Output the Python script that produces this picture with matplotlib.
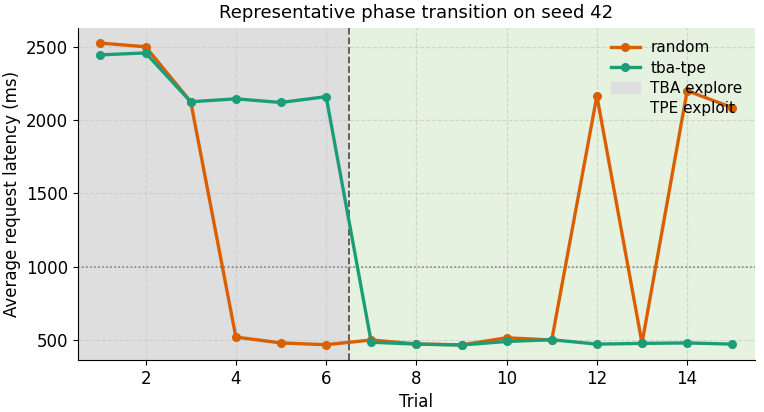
import numpy as np
import matplotlib
matplotlib.use("Agg")
import matplotlib.pyplot as plt

# datos
trials = [1, 2, 3, 4, 5, 6, 7, 8, 9, 10, 11, 12, 13, 14, 15]
random_lat = [2525, 2500, 2125, 520, 480, 468, 500, 473, 467, 515, 500, 2165, 478, 2200, 2085]
tba_tpe_lat = [2445, 2458, 2125, 2145, 2120, 2160, 485, 472, 466, 490, 502, 472, 477, 480, 472]
switch_at = 6.5
ref_line = 1000

fig, ax = plt.subplots(figsize=(7.64, 4.12), dpi=100)

ax.axvspan(0.5, switch_at, color="#dedede", zorder=0, label="TBA explore")
ax.axvspan(switch_at, 15.5, color="#e6f2e0", zorder=0, label="TPE exploit")

ax.plot(trials, random_lat, color="#d95f02", lw=2.4, marker="o", ms=5.5, label="random", zorder=3)
ax.plot(trials, tba_tpe_lat, color="#1b9e77", lw=2.4, marker="o", ms=5.5, label="tba-tpe", zorder=3)

ax.axvline(switch_at, color="#555555", ls="--", lw=1.3, zorder=2)
ax.axhline(ref_line, color="#777777", ls=":", lw=1.1, zorder=2)

ax.grid(True, ls="--", color="#c8c8c8", alpha=0.7, lw=0.8)
ax.set_xlim(0.5, 15.5)
ax.set_xticks([2, 4, 6, 8, 10, 12, 14])
ax.spines["top"].set_visible(False)
ax.spines["right"].set_visible(False)

ax.set_xlabel("Trial", fontsize=12)
ax.set_ylabel("Average request latency (ms)", fontsize=12)
ax.set_title("Representative phase transition on seed 42", fontsize=13, pad=7)
ax.tick_params(labelsize=12)

handles, labels = ax.get_legend_handles_labels()
order = [2, 3, 0, 1]
ax.legend([handles[k] for k in order], [labels[k] for k in order],
          frameon=False, fontsize=11, loc="upper right",
          labelspacing=0.35, borderaxespad=0.4, handlelength=1.9, handletextpad=0.7)

fig.subplots_adjust(left=0.102, right=0.988, top=0.932, bottom=0.126)
fig.savefig("out.png", dpi=100)
